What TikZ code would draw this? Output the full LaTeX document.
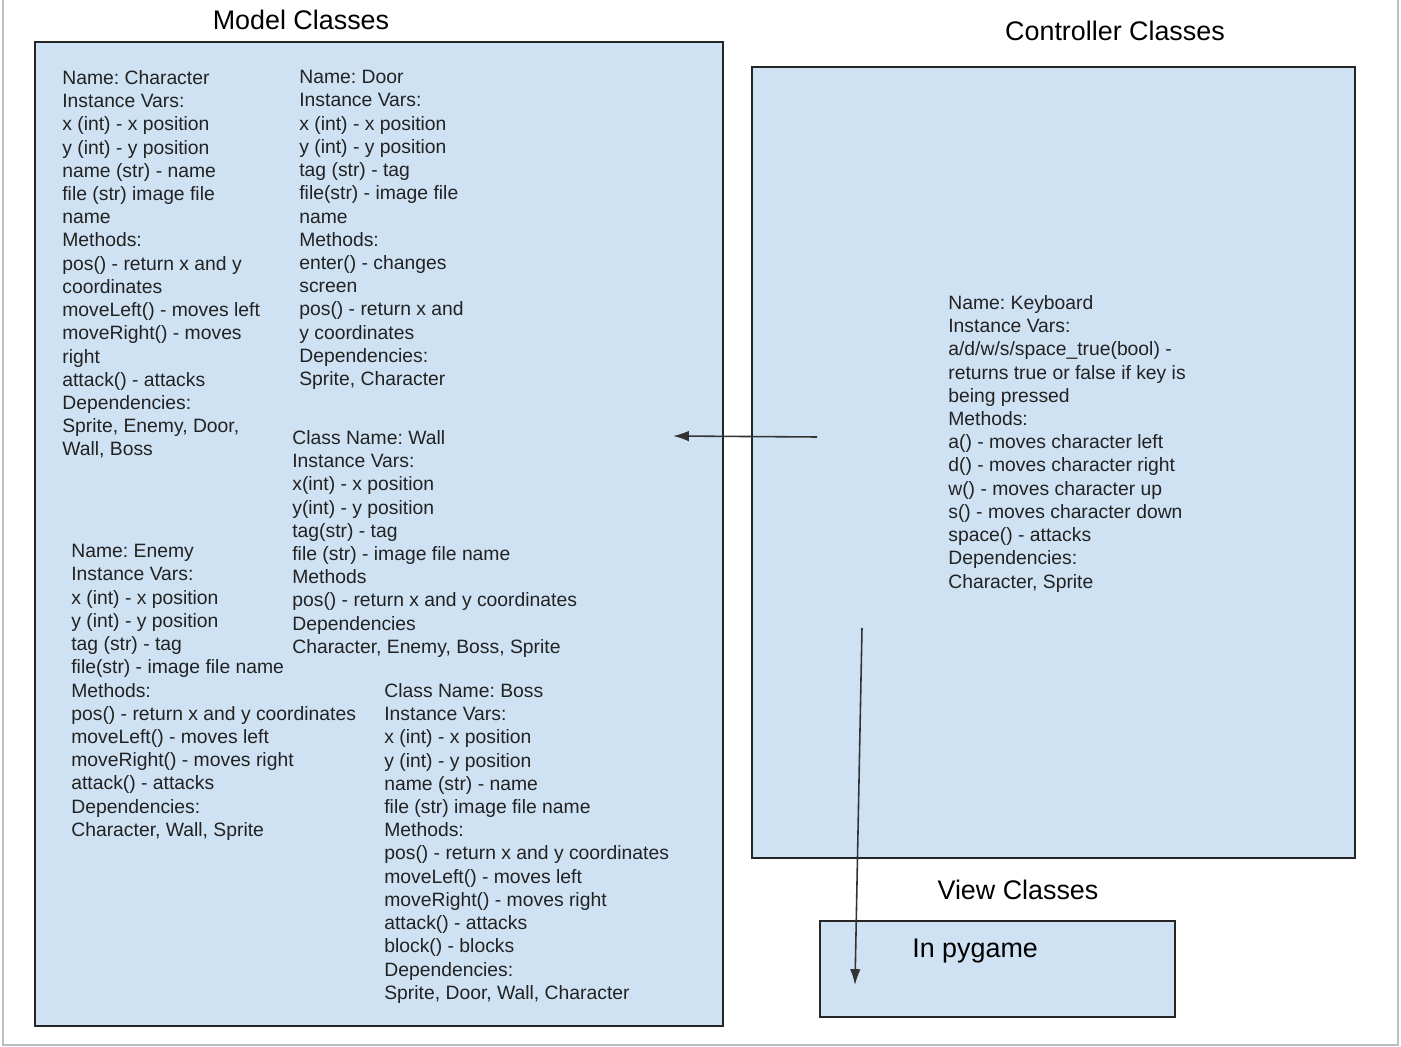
\documentclass[tikz,border=0pt]{standalone}
\usepackage{fontspec}
\setmainfont{Liberation Sans}
\usetikzlibrary{arrows.meta}
\frenchspacing

\definecolor{panelblue}{HTML}{CFE2F3}
\definecolor{inkgray}{HTML}{222222}
\newcommand\classfont{\fontsize{11}{13.22}\selectfont}
\newcommand\headfont{\fontsize{15.3}{18}\selectfont}

\begin{document}
\begin{tikzpicture}[
  x=0.02cm, y=-0.02cm,
  >={Latex[length=9pt,width=6pt]},
  panel/.style={draw=black!85, line width=0.9pt, fill=panelblue},
  classtext/.style={align=left, anchor=north west, inner sep=0pt, font=\classfont, text=inkgray},
  heading/.style={inner sep=0pt, font=\headfont, text=black},
  link/.style={->, draw=black!80, line width=0.9pt}
]
\useasboundingbox (0,0) rectangle (1401,1047);
\draw[black!25, line width=0.8pt] (3,0) -- (3,1045) -- (1398,1045) -- (1398,0);

% the three groups
\draw[panel] (35,42) rectangle (723,1026);
\draw[panel] (752,67) rectangle (1355,858);
\draw[panel] (820,921) rectangle (1175,1017);

\node[heading] (modelhead) at (301,20) {Model Classes};
\node[heading] (ctrlhead) at (1115,31) {Controller Classes};
\node[heading] (viewhead) at (1018,890) {View Classes};
\node[heading, anchor=west] (pygame) at (912,951) {In pygame};

% model classes
\node[classtext] (character) at (62,70) {Name: Character\\Instance Vars:\\x (int) - x position\\y (int) - y position\\name (str) - name\\file (str) image file\\name\\Methods:\\pos() - return x and y\\coordinates\\moveLeft() - moves left\\moveRight() - moves\\right\\attack() - attacks\\Dependencies:\\Sprite, Enemy, Door,\\Wall, Boss};
\node[classtext] (door) at (299,70) {Name: Door\\Instance Vars:\\x (int) - x position\\y (int) - y position\\tag (str) - tag\\file(str) - image file\\name\\Methods:\\enter() - changes\\screen\\pos() - return x and\\y coordinates\\Dependencies:\\Sprite, Character};
\node[classtext] (wall) at (292,430) {Class Name: Wall\\Instance Vars:\\x(int) - x position\\y(int) - y position\\tag(str) - tag\\file (str) - image file name\\Methods\\pos() - return x and y coordinates\\Dependencies\\Character, Enemy, Boss, Sprite};
\node[classtext] (enemy) at (71,544) {Name: Enemy\\Instance Vars:\\x (int) - x position\\y (int) - y position\\tag (str) - tag\\file(str) - image file name\\Methods:\\pos() - return x and y coordinates\\moveLeft() - moves left\\moveRight() - moves right\\attack() - attacks\\Dependencies:\\Character, Wall, Sprite};
\node[classtext] (boss) at (384,683) {Class Name: Boss\\Instance Vars:\\x (int) - x position\\y (int) - y position\\name (str) - name\\file (str) image file name\\Methods:\\pos() - return x and y coordinates\\moveLeft() - moves left\\moveRight() - moves right\\attack() - attacks\\block() - blocks\\Dependencies:\\Sprite, Door, Wall, Character};

% controller class
\node[classtext] (keyboard) at (948,295) {Name: Keyboard\\Instance Vars:\\a/d/w/s/space\_true(bool) -\\returns true or false if key is\\being pressed\\Methods:\\a() - moves character left\\d() - moves character right\\w() - moves character up\\s() - moves character down\\space() - attacks\\Dependencies:\\Character, Sprite};

% connectors
\coordinate (ctrlout) at (817,437);
\coordinate (modelin) at (673,436);
\coordinate (viewout) at (862,628);
\coordinate (viewin) at (855,985);
\draw[link] (ctrlout) -- (modelin);
\draw[link] (viewout) -- (viewin);
\end{tikzpicture}
\end{document}
